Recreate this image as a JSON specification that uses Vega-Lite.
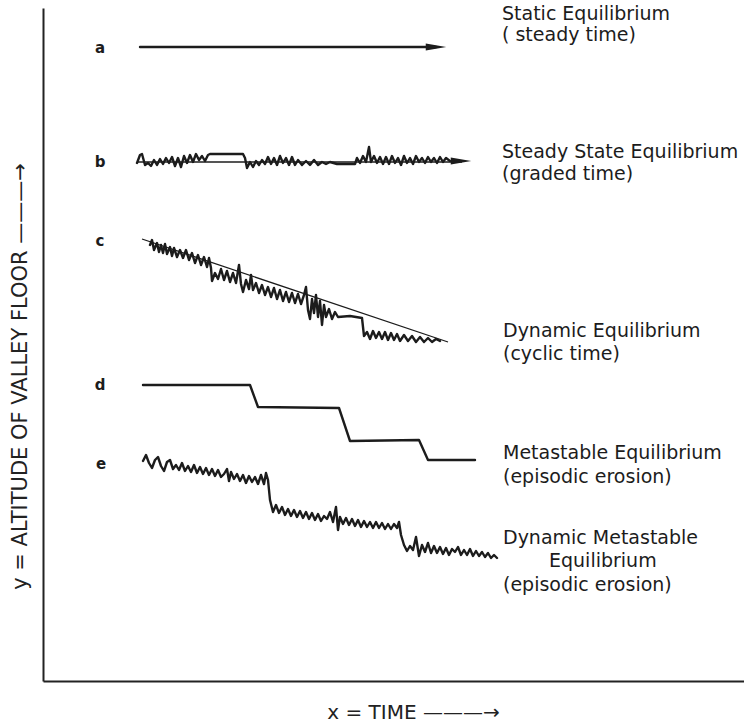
{
  "$schema": "https://vega.github.io/schema/vega-lite/v6.json",
  "width": 701,
  "height": 673,
  "autosize": {"type": "none"},
  "padding": {"left": 43, "top": 8, "right": 0, "bottom": 43},
  "background": "white",
  "config": {"view": {"stroke": null}, "font": "DejaVu Sans"},
  "datasets": {
    "paths": [
      {"s":"a","k":"path","x":140,"y":47},{"s":"a","k":"path","x":436,"y":47},
      {"s":"bt","k":"trend","x":137,"y":162},{"s":"bt","k":"trend","x":462,"y":162},
      {"s":"b","k":"path","x":137,"y":163},{"s":"b","k":"path","x":140,"y":155},{"s":"b","k":"path","x":142,"y":154},{"s":"b","k":"path","x":145,"y":165},{"s":"b","k":"path","x":148,"y":163},{"s":"b","k":"path","x":151,"y":166},{"s":"b","k":"path","x":154,"y":160},{"s":"b","k":"path","x":157,"y":165},{"s":"b","k":"path","x":160,"y":159},{"s":"b","k":"path","x":163,"y":164},{"s":"b","k":"path","x":166,"y":158},{"s":"b","k":"path","x":169,"y":163},{"s":"b","k":"path","x":172,"y":157},{"s":"b","k":"path","x":175,"y":166},{"s":"b","k":"path","x":178,"y":158},{"s":"b","k":"path","x":181,"y":167},{"s":"b","k":"path","x":184,"y":156},{"s":"b","k":"path","x":187,"y":163},{"s":"b","k":"path","x":190,"y":155},{"s":"b","k":"path","x":193,"y":162},{"s":"b","k":"path","x":196,"y":154},{"s":"b","k":"path","x":199,"y":160},{"s":"b","k":"path","x":202,"y":156},{"s":"b","k":"path","x":205,"y":161},{"s":"b","k":"path","x":208,"y":155},{"s":"b","k":"path","x":210,"y":154},{"s":"b","k":"path","x":243,"y":154},{"s":"b","k":"path","x":245,"y":158},{"s":"b","k":"path","x":247,"y":168},{"s":"b","k":"path","x":250,"y":162},{"s":"b","k":"path","x":253,"y":167},{"s":"b","k":"path","x":256,"y":161},{"s":"b","k":"path","x":259,"y":165},{"s":"b","k":"path","x":262,"y":160},{"s":"b","k":"path","x":265,"y":164},{"s":"b","k":"path","x":268,"y":157},{"s":"b","k":"path","x":271,"y":164},{"s":"b","k":"path","x":274,"y":158},{"s":"b","k":"path","x":277,"y":165},{"s":"b","k":"path","x":280,"y":156},{"s":"b","k":"path","x":283,"y":163},{"s":"b","k":"path","x":286,"y":158},{"s":"b","k":"path","x":289,"y":165},{"s":"b","k":"path","x":292,"y":157},{"s":"b","k":"path","x":295,"y":165},{"s":"b","k":"path","x":298,"y":160},{"s":"b","k":"path","x":302,"y":165},{"s":"b","k":"path","x":306,"y":161},{"s":"b","k":"path","x":310,"y":165},{"s":"b","k":"path","x":314,"y":160},{"s":"b","k":"path","x":318,"y":165},{"s":"b","k":"path","x":322,"y":162},{"s":"b","k":"path","x":326,"y":164},{"s":"b","k":"path","x":330,"y":162},{"s":"b","k":"path","x":337,"y":164},{"s":"b","k":"path","x":355,"y":164},{"s":"b","k":"path","x":357,"y":158},{"s":"b","k":"path","x":360,"y":163},{"s":"b","k":"path","x":363,"y":156},{"s":"b","k":"path","x":366,"y":162},{"s":"b","k":"path","x":369,"y":147},{"s":"b","k":"path","x":371,"y":162},{"s":"b","k":"path","x":374,"y":156},{"s":"b","k":"path","x":377,"y":163},{"s":"b","k":"path","x":380,"y":157},{"s":"b","k":"path","x":383,"y":164},{"s":"b","k":"path","x":386,"y":157},{"s":"b","k":"path","x":389,"y":164},{"s":"b","k":"path","x":392,"y":156},{"s":"b","k":"path","x":395,"y":163},{"s":"b","k":"path","x":398,"y":158},{"s":"b","k":"path","x":401,"y":165},{"s":"b","k":"path","x":404,"y":156},{"s":"b","k":"path","x":407,"y":163},{"s":"b","k":"path","x":410,"y":158},{"s":"b","k":"path","x":413,"y":164},{"s":"b","k":"path","x":416,"y":156},{"s":"b","k":"path","x":419,"y":162},{"s":"b","k":"path","x":422,"y":158},{"s":"b","k":"path","x":425,"y":163},{"s":"b","k":"path","x":428,"y":157},{"s":"b","k":"path","x":431,"y":162},{"s":"b","k":"path","x":434,"y":158},{"s":"b","k":"path","x":437,"y":163},{"s":"b","k":"path","x":440,"y":157},{"s":"b","k":"path","x":443,"y":162},{"s":"b","k":"path","x":446,"y":158},{"s":"b","k":"path","x":450,"y":161},
      {"s":"ct","k":"trend","x":142,"y":239},{"s":"ct","k":"trend","x":448,"y":342},
      {"s":"c","k":"path","x":150,"y":245},{"s":"c","k":"path","x":152,"y":240},{"s":"c","k":"path","x":154,"y":250},{"s":"c","k":"path","x":157,"y":243},{"s":"c","k":"path","x":159,"y":252},{"s":"c","k":"path","x":161,"y":245},{"s":"c","k":"path","x":163,"y":253},{"s":"c","k":"path","x":165,"y":244},{"s":"c","k":"path","x":167,"y":254},{"s":"c","k":"path","x":170,"y":247},{"s":"c","k":"path","x":172,"y":256},{"s":"c","k":"path","x":174,"y":248},{"s":"c","k":"path","x":177,"y":257},{"s":"c","k":"path","x":180,"y":250},{"s":"c","k":"path","x":183,"y":258},{"s":"c","k":"path","x":186,"y":250},{"s":"c","k":"path","x":189,"y":260},{"s":"c","k":"path","x":192,"y":253},{"s":"c","k":"path","x":195,"y":263},{"s":"c","k":"path","x":198,"y":255},{"s":"c","k":"path","x":201,"y":265},{"s":"c","k":"path","x":204,"y":257},{"s":"c","k":"path","x":207,"y":267},{"s":"c","k":"path","x":209,"y":258},{"s":"c","k":"path","x":211,"y":268},{"s":"c","k":"path","x":212,"y":281},{"s":"c","k":"path","x":215,"y":273},{"s":"c","k":"path","x":218,"y":279},{"s":"c","k":"path","x":221,"y":269},{"s":"c","k":"path","x":224,"y":280},{"s":"c","k":"path","x":227,"y":271},{"s":"c","k":"path","x":230,"y":282},{"s":"c","k":"path","x":233,"y":273},{"s":"c","k":"path","x":236,"y":283},{"s":"c","k":"path","x":239,"y":265},{"s":"c","k":"path","x":241,"y":284},{"s":"c","k":"path","x":243,"y":292},{"s":"c","k":"path","x":246,"y":280},{"s":"c","k":"path","x":249,"y":289},{"s":"c","k":"path","x":251,"y":275},{"s":"c","k":"path","x":253,"y":290},{"s":"c","k":"path","x":256,"y":283},{"s":"c","k":"path","x":259,"y":293},{"s":"c","k":"path","x":262,"y":285},{"s":"c","k":"path","x":265,"y":295},{"s":"c","k":"path","x":268,"y":287},{"s":"c","k":"path","x":271,"y":297},{"s":"c","k":"path","x":274,"y":288},{"s":"c","k":"path","x":277,"y":299},{"s":"c","k":"path","x":280,"y":290},{"s":"c","k":"path","x":283,"y":301},{"s":"c","k":"path","x":286,"y":292},{"s":"c","k":"path","x":289,"y":302},{"s":"c","k":"path","x":292,"y":293},{"s":"c","k":"path","x":295,"y":303},{"s":"c","k":"path","x":298,"y":294},{"s":"c","k":"path","x":301,"y":304},{"s":"c","k":"path","x":304,"y":295},{"s":"c","k":"path","x":306,"y":287},{"s":"c","k":"path","x":308,"y":310},{"s":"c","k":"path","x":310,"y":319},{"s":"c","k":"path","x":312,"y":299},{"s":"c","k":"path","x":314,"y":313},{"s":"c","k":"path","x":316,"y":295},{"s":"c","k":"path","x":318,"y":317},{"s":"c","k":"path","x":320,"y":301},{"s":"c","k":"path","x":322,"y":325},{"s":"c","k":"path","x":324,"y":305},{"s":"c","k":"path","x":326,"y":317},{"s":"c","k":"path","x":329,"y":309},{"s":"c","k":"path","x":332,"y":319},{"s":"c","k":"path","x":335,"y":312},{"s":"c","k":"path","x":338,"y":317},{"s":"c","k":"path","x":350,"y":316},{"s":"c","k":"path","x":362,"y":318},{"s":"c","k":"path","x":364,"y":336},{"s":"c","k":"path","x":367,"y":332},{"s":"c","k":"path","x":370,"y":339},{"s":"c","k":"path","x":373,"y":331},{"s":"c","k":"path","x":376,"y":338},{"s":"c","k":"path","x":379,"y":332},{"s":"c","k":"path","x":382,"y":339},{"s":"c","k":"path","x":385,"y":332},{"s":"c","k":"path","x":388,"y":340},{"s":"c","k":"path","x":391,"y":333},{"s":"c","k":"path","x":394,"y":340},{"s":"c","k":"path","x":397,"y":334},{"s":"c","k":"path","x":400,"y":341},{"s":"c","k":"path","x":404,"y":335},{"s":"c","k":"path","x":408,"y":341},{"s":"c","k":"path","x":412,"y":336},{"s":"c","k":"path","x":416,"y":342},{"s":"c","k":"path","x":420,"y":337},{"s":"c","k":"path","x":424,"y":342},{"s":"c","k":"path","x":428,"y":338},{"s":"c","k":"path","x":432,"y":342},{"s":"c","k":"path","x":436,"y":339},{"s":"c","k":"path","x":440,"y":341},
      {"s":"d","k":"path","x":143,"y":385},{"s":"d","k":"path","x":250,"y":385},{"s":"d","k":"path","x":258,"y":407},{"s":"d","k":"path","x":339,"y":408},{"s":"d","k":"path","x":350,"y":441},{"s":"d","k":"path","x":419,"y":440},{"s":"d","k":"path","x":428,"y":460},{"s":"d","k":"path","x":475,"y":460},
      {"s":"e","k":"path","x":143,"y":461},{"s":"e","k":"path","x":146,"y":455},{"s":"e","k":"path","x":149,"y":463},{"s":"e","k":"path","x":152,"y":468},{"s":"e","k":"path","x":155,"y":460},{"s":"e","k":"path","x":158,"y":457},{"s":"e","k":"path","x":161,"y":466},{"s":"e","k":"path","x":164,"y":471},{"s":"e","k":"path","x":167,"y":462},{"s":"e","k":"path","x":170,"y":460},{"s":"e","k":"path","x":173,"y":469},{"s":"e","k":"path","x":176,"y":465},{"s":"e","k":"path","x":179,"y":470},{"s":"e","k":"path","x":182,"y":463},{"s":"e","k":"path","x":185,"y":471},{"s":"e","k":"path","x":188,"y":466},{"s":"e","k":"path","x":191,"y":472},{"s":"e","k":"path","x":194,"y":465},{"s":"e","k":"path","x":197,"y":473},{"s":"e","k":"path","x":200,"y":467},{"s":"e","k":"path","x":203,"y":474},{"s":"e","k":"path","x":206,"y":468},{"s":"e","k":"path","x":209,"y":475},{"s":"e","k":"path","x":212,"y":469},{"s":"e","k":"path","x":215,"y":476},{"s":"e","k":"path","x":218,"y":470},{"s":"e","k":"path","x":221,"y":477},{"s":"e","k":"path","x":224,"y":474},{"s":"e","k":"path","x":227,"y":469},{"s":"e","k":"path","x":229,"y":481},{"s":"e","k":"path","x":231,"y":472},{"s":"e","k":"path","x":234,"y":479},{"s":"e","k":"path","x":237,"y":474},{"s":"e","k":"path","x":240,"y":481},{"s":"e","k":"path","x":243,"y":475},{"s":"e","k":"path","x":246,"y":483},{"s":"e","k":"path","x":249,"y":476},{"s":"e","k":"path","x":252,"y":482},{"s":"e","k":"path","x":255,"y":477},{"s":"e","k":"path","x":258,"y":484},{"s":"e","k":"path","x":261,"y":475},{"s":"e","k":"path","x":264,"y":484},{"s":"e","k":"path","x":266,"y":473},{"s":"e","k":"path","x":268,"y":480},{"s":"e","k":"path","x":270,"y":500},{"s":"e","k":"path","x":273,"y":512},{"s":"e","k":"path","x":276,"y":505},{"s":"e","k":"path","x":279,"y":513},{"s":"e","k":"path","x":282,"y":507},{"s":"e","k":"path","x":285,"y":515},{"s":"e","k":"path","x":288,"y":509},{"s":"e","k":"path","x":291,"y":516},{"s":"e","k":"path","x":294,"y":510},{"s":"e","k":"path","x":297,"y":517},{"s":"e","k":"path","x":300,"y":511},{"s":"e","k":"path","x":303,"y":518},{"s":"e","k":"path","x":306,"y":512},{"s":"e","k":"path","x":309,"y":519},{"s":"e","k":"path","x":312,"y":513},{"s":"e","k":"path","x":315,"y":520},{"s":"e","k":"path","x":318,"y":514},{"s":"e","k":"path","x":321,"y":521},{"s":"e","k":"path","x":324,"y":516},{"s":"e","k":"path","x":327,"y":519},{"s":"e","k":"path","x":330,"y":512},{"s":"e","k":"path","x":333,"y":522},{"s":"e","k":"path","x":336,"y":507},{"s":"e","k":"path","x":338,"y":530},{"s":"e","k":"path","x":340,"y":517},{"s":"e","k":"path","x":343,"y":524},{"s":"e","k":"path","x":346,"y":518},{"s":"e","k":"path","x":349,"y":525},{"s":"e","k":"path","x":352,"y":519},{"s":"e","k":"path","x":355,"y":526},{"s":"e","k":"path","x":358,"y":520},{"s":"e","k":"path","x":361,"y":527},{"s":"e","k":"path","x":364,"y":521},{"s":"e","k":"path","x":367,"y":527},{"s":"e","k":"path","x":370,"y":522},{"s":"e","k":"path","x":373,"y":528},{"s":"e","k":"path","x":376,"y":522},{"s":"e","k":"path","x":379,"y":528},{"s":"e","k":"path","x":382,"y":523},{"s":"e","k":"path","x":385,"y":529},{"s":"e","k":"path","x":388,"y":524},{"s":"e","k":"path","x":391,"y":529},{"s":"e","k":"path","x":394,"y":524},{"s":"e","k":"path","x":397,"y":528},{"s":"e","k":"path","x":399,"y":522},{"s":"e","k":"path","x":401,"y":535},{"s":"e","k":"path","x":404,"y":545},{"s":"e","k":"path","x":407,"y":551},{"s":"e","k":"path","x":410,"y":546},{"s":"e","k":"path","x":413,"y":550},{"s":"e","k":"path","x":416,"y":537},{"s":"e","k":"path","x":419,"y":556},{"s":"e","k":"path","x":422,"y":545},{"s":"e","k":"path","x":425,"y":552},{"s":"e","k":"path","x":428,"y":543},{"s":"e","k":"path","x":431,"y":553},{"s":"e","k":"path","x":434,"y":546},{"s":"e","k":"path","x":437,"y":553},{"s":"e","k":"path","x":440,"y":547},{"s":"e","k":"path","x":443,"y":554},{"s":"e","k":"path","x":446,"y":548},{"s":"e","k":"path","x":449,"y":555},{"s":"e","k":"path","x":452,"y":549},{"s":"e","k":"path","x":455,"y":552},{"s":"e","k":"path","x":458,"y":547},{"s":"e","k":"path","x":461,"y":555},{"s":"e","k":"path","x":464,"y":550},{"s":"e","k":"path","x":467,"y":555},{"s":"e","k":"path","x":470,"y":549},{"s":"e","k":"path","x":473,"y":556},{"s":"e","k":"path","x":476,"y":551},{"s":"e","k":"path","x":479,"y":556},{"s":"e","k":"path","x":482,"y":552},{"s":"e","k":"path","x":485,"y":557},{"s":"e","k":"path","x":488,"y":553},{"s":"e","k":"path","x":491,"y":558},{"s":"e","k":"path","x":494,"y":555},{"s":"e","k":"path","x":497,"y":558}
    ],
    "heads": [
      {"s":"a","x":436,"y":47},
      {"s":"b","x":461,"y":161}
    ],
    "texts": [
      {"t":"a","role":"letter","x":100,"y":48},
      {"t":"b","role":"letter","x":100,"y":162},
      {"t":"c","role":"letter","x":100,"y":241},
      {"t":"d","role":"letter","x":100,"y":385},
      {"t":"e","role":"letter","x":101,"y":464},
      {"t":"Static Equilibrium","role":"desc","x":502,"y":14},
      {"t":"( steady time)","role":"desc","x":502,"y":35},
      {"t":"Steady State Equilibrium","role":"desc","x":502,"y":152},
      {"t":"(graded time)","role":"desc","x":502,"y":174},
      {"t":"Dynamic Equilibrium","role":"desc","x":503,"y":331},
      {"t":"(cyclic time)","role":"desc","x":503,"y":354},
      {"t":"Metastable Equilibrium","role":"desc","x":503,"y":453},
      {"t":"(episodic erosion)","role":"desc","x":503,"y":477},
      {"t":"Dynamic Metastable","role":"desc","x":503,"y":538},
      {"t":"Equilibrium","role":"desc","x":549,"y":561},
      {"t":"(episodic erosion)","role":"desc","x":503,"y":585}
    ]
  },
  "encoding": {
    "x": {"field": "x", "type": "quantitative", "scale": {"domain": [43, 744], "nice": false, "zero": false},
      "axis": {"orient": "bottom", "domain": true, "domainColor": "#222", "domainWidth": 2, "ticks": false, "labels": false, "grid": false,
        "title": "x = TIME ———→", "titleFont": "DejaVu Sans", "titleFontSize": 20, "titleFontWeight": "normal", "titleColor": "#222",
        "titleX": 370, "titleY": 31, "titleBaseline": "middle", "titleAlign": "center"}},
    "y": {"field": "y", "type": "quantitative", "scale": {"domain": [8, 681], "reverse": true, "nice": false, "zero": false},
      "axis": {"orient": "left", "domain": true, "domainColor": "#222", "domainWidth": 2, "ticks": false, "labels": false, "grid": false,
        "title": "y = ALTITUDE OF VALLEY FLOOR ———→", "titleFont": "DejaVu Sans", "titleFontSize": 21, "titleFontWeight": "normal", "titleColor": "#222",
        "titleAngle": 270, "titleX": -23, "titleY": 368, "titleBaseline": "middle", "titleAlign": "center"}}
  },
  "layer": [
    {
      "data": {"name": "paths"},
      "transform": [{"filter": "datum.k === 'path'"}],
      "mark": {"type": "line", "color": "#1c1c1c", "strokeWidth": 2.4, "strokeJoin": "round", "strokeCap": "round"},
      "encoding": {
        "detail": {"field": "s"},
        "order": {"value": null}
      }
    },
    {
      "data": {"name": "paths"},
      "transform": [{"filter": "datum.k === 'trend'"}],
      "mark": {"type": "line", "color": "#1c1c1c", "strokeWidth": 1.3},
      "encoding": {
        "detail": {"field": "s"},
        "order": {"value": null}
      }
    },
    {
      "data": {"name": "heads"},
      "mark": {"type": "point", "shape": "M-1,-0.35L1,0L-1,0.35Z", "size": 420, "filled": true, "color": "#1c1c1c", "opacity": 1, "strokeWidth": 0},
      "encoding": {}
    },
    {
      "data": {"name": "texts"},
      "transform": [{"filter": "datum.role === 'letter'"}],
      "mark": {"type": "text", "font": "DejaVu Sans", "fontSize": 15, "fontWeight": "bold", "color": "#1c1c1c", "align": "center", "baseline": "middle"},
      "encoding": {"text": {"field": "t"}}
    },
    {
      "data": {"name": "texts"},
      "transform": [{"filter": "datum.role === 'desc'"}],
      "mark": {"type": "text", "font": "DejaVu Sans", "fontSize": 19, "color": "#1c1c1c", "align": "left", "baseline": "middle"},
      "encoding": {"text": {"field": "t"}}
    }
  ]
}
